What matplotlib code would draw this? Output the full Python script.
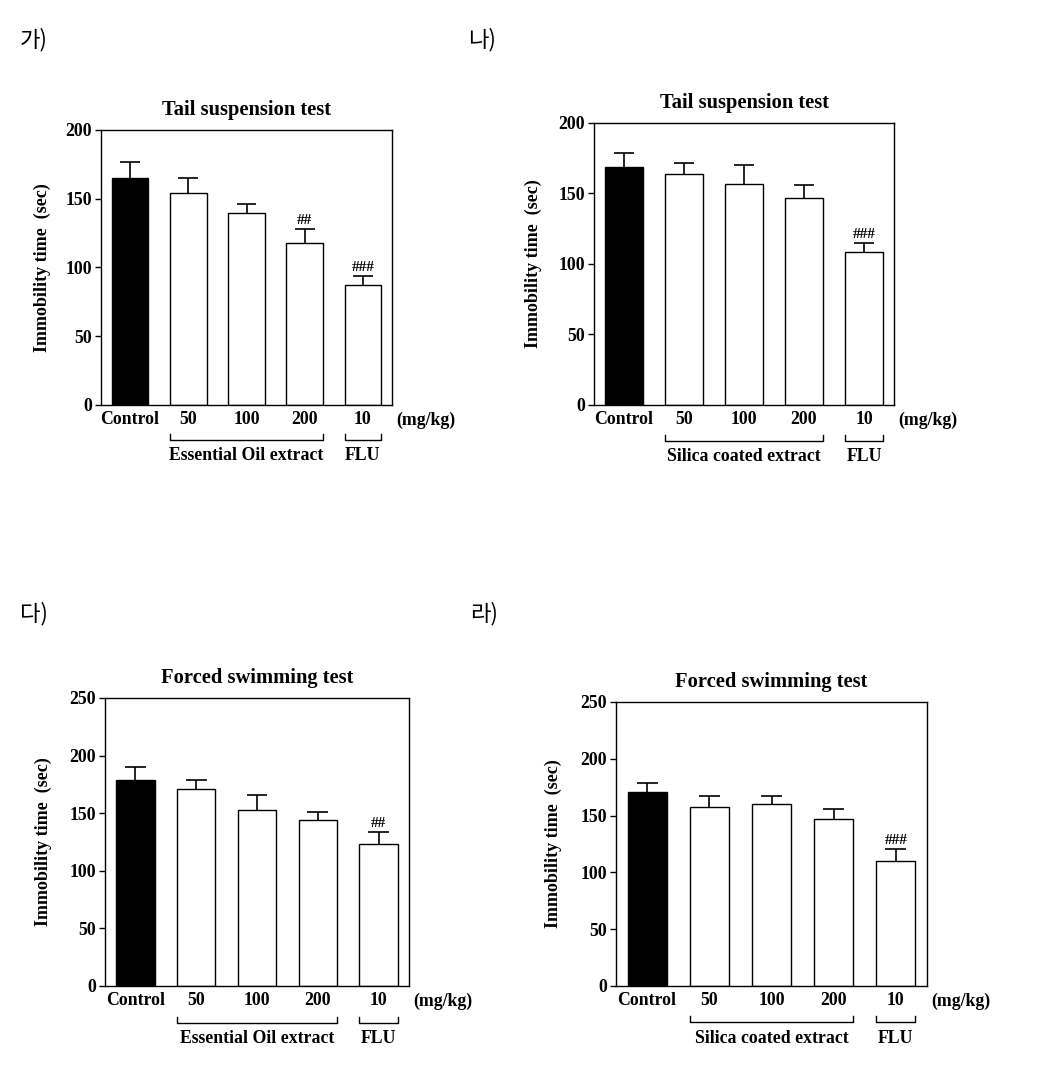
#!/usr/bin/env python

import matplotlib
matplotlib.use('Agg')
import matplotlib.pyplot as plt
import matplotlib.transforms as mtransforms

FIG_W_PX   = 1043
FIG_H_PX   = 1066
DPI        = 100
SERIF      = 'Liberation Serif'
KOREAN     = ['Noto Sans CJK KR', 'DejaVu Sans']
BAR_WIDTH  = 0.63
CAP_HALF   = 0.17   # half width of error bar cap in data units

# data
GROUPS = ['Control', '50', '100', '200', '10']
COLORS = ['black', 'white', 'white', 'white', 'white']

TST_OIL_MEAN    = [165.0, 154.0, 139.5, 118.0, 87.5]
TST_OIL_ERR     = [11.5, 11.0, 6.5, 10.0, 6.5]
TST_OIL_MARK    = ['', '', '', '##', '###']

TST_SILICA_MEAN = [169.0, 164.0, 156.5, 147.0, 108.5]
TST_SILICA_ERR  = [10.0, 7.5, 14.0, 9.0, 6.5]
TST_SILICA_MARK = ['', '', '', '', '###']

FST_OIL_MEAN    = [179.0, 171.0, 153.0, 144.0, 123.0]
FST_OIL_ERR     = [11.0, 8.0, 13.0, 7.0, 10.5]
FST_OIL_MARK    = ['', '', '', '', '##']

FST_SILICA_MEAN = [170.5, 157.5, 160.0, 147.0, 110.0]
FST_SILICA_ERR  = [8.0, 9.5, 7.0, 9.0, 10.5]
FST_SILICA_MARK = ['', '', '', '', '###']

TST_TITLE = 'Tail suspension test'
FST_TITLE = 'Forced swimming test'
OIL_NAME    = 'Essential Oil extract'
SILICA_NAME = 'Silica coated extract'


#
# Converts pixel box (left, top, right, bottom) into figure fraction rect
#
def px_rect(left, top, right, bottom):
    return [left / FIG_W_PX, 1 - bottom / FIG_H_PX,
            (right - left) / FIG_W_PX, (bottom - top) / FIG_H_PX]


#
# Draws one bar panel
#
def draw_panel(fig, rect, title, means, errs, marks, ymax, extractName):
    ax = fig.add_axes(rect)
    xs = list(range(len(GROUPS)))

    ax.bar(xs, means, width=BAR_WIDTH, color=COLORS, edgecolor='black', linewidth=1.0, zorder=2)

    # upper-only error bars
    tops = [m + e for m, e in zip(means, errs)]
    ax.vlines(xs, means, tops, color='black', linewidth=1.2, zorder=1)
    ax.hlines(tops, [x - CAP_HALF for x in xs], [x + CAP_HALF for x in xs],
              color='black', linewidth=1.2, zorder=1)

    for x, top, mark in zip(xs, tops, marks):
        if mark:
            ax.annotate(mark, (x, top), xytext=(0, 1.5), textcoords='offset points',
                        ha='center', va='bottom', fontsize=11, fontweight='bold', family=SERIF)

    ax.set_xlim(-0.5, len(GROUPS) - 0.5)
    ax.set_ylim(0, ymax)
    ax.set_yticks(range(0, ymax + 1, 50))
    ax.set_xticks(xs)
    ax.set_xticklabels(GROUPS)

    ax.tick_params(axis='x', length=0, pad=4)
    ax.tick_params(axis='y', direction='out', length=4.5, width=1, pad=2)
    for lbl in ax.get_xticklabels() + ax.get_yticklabels():
        lbl.set_family(SERIF)
        lbl.set_fontweight('bold')
        lbl.set_fontsize(12.8)

    for spine in ax.spines.values():
        spine.set_linewidth(1.0)
        spine.set_color('black')

    ax.set_title(title, family=SERIF, fontweight='bold', fontsize=14.8, pad=10.5)
    ax.set_ylabel('Immobility time  (sec)', family=SERIF, fontweight='bold', fontsize=13)
    ax.yaxis.set_label_coords(-0.173, 0.5)

    ax.annotate('(mg/kg)', (1.0, 0.0), xycoords='axes fraction', xytext=(3, -4.5),
                textcoords='offset points', ha='left', va='top', family=SERIF,
                fontweight='bold', fontsize=12.8)

    # group brackets below tick labels
    trans = mtransforms.blended_transform_factory(ax.transData, ax.transAxes)
    half = BAR_WIDTH / 2
    brackets = [(1 - half, 3 + half, extractName), (4 - half, 4 + half, 'FLU')]
    for x0, x1, name in brackets:
        ax.plot([x0, x0, x1, x1], [-0.106, -0.128, -0.128, -0.106], color='black',
                linewidth=1.0, transform=trans, clip_on=False)
        ax.text((x0 + x1) / 2, -0.184, name, transform=trans, ha='center', va='center',
                family=SERIF, fontweight='bold', fontsize=12.8)

    return ax


fig = plt.figure(figsize=(FIG_W_PX / DPI, FIG_H_PX / DPI), dpi=DPI)
fig.patch.set_facecolor('white')

draw_panel(fig, px_rect(101, 130, 392, 405), TST_TITLE,
           TST_OIL_MEAN, TST_OIL_ERR, TST_OIL_MARK, 200, OIL_NAME)
draw_panel(fig, px_rect(594, 123, 894, 405), TST_TITLE,
           TST_SILICA_MEAN, TST_SILICA_ERR, TST_SILICA_MARK, 200, SILICA_NAME)
draw_panel(fig, px_rect(105, 698, 409, 986), FST_TITLE,
           FST_OIL_MEAN, FST_OIL_ERR, FST_OIL_MARK, 250, OIL_NAME)
draw_panel(fig, px_rect(616, 702, 927, 986), FST_TITLE,
           FST_SILICA_MEAN, FST_SILICA_ERR, FST_SILICA_MARK, 250, SILICA_NAME)

panelLabels = [('가)', 20, 40), ('나)', 468, 40), ('다)', 20, 614), ('라)', 470, 614)]
for text, px, py in panelLabels:
    fig.text(px / FIG_W_PX, 1 - py / FIG_H_PX, text, ha='left', va='center',
             family=KOREAN, fontsize=16)

fig.savefig('out.png', dpi=DPI, facecolor='white')
plt.close(fig)
